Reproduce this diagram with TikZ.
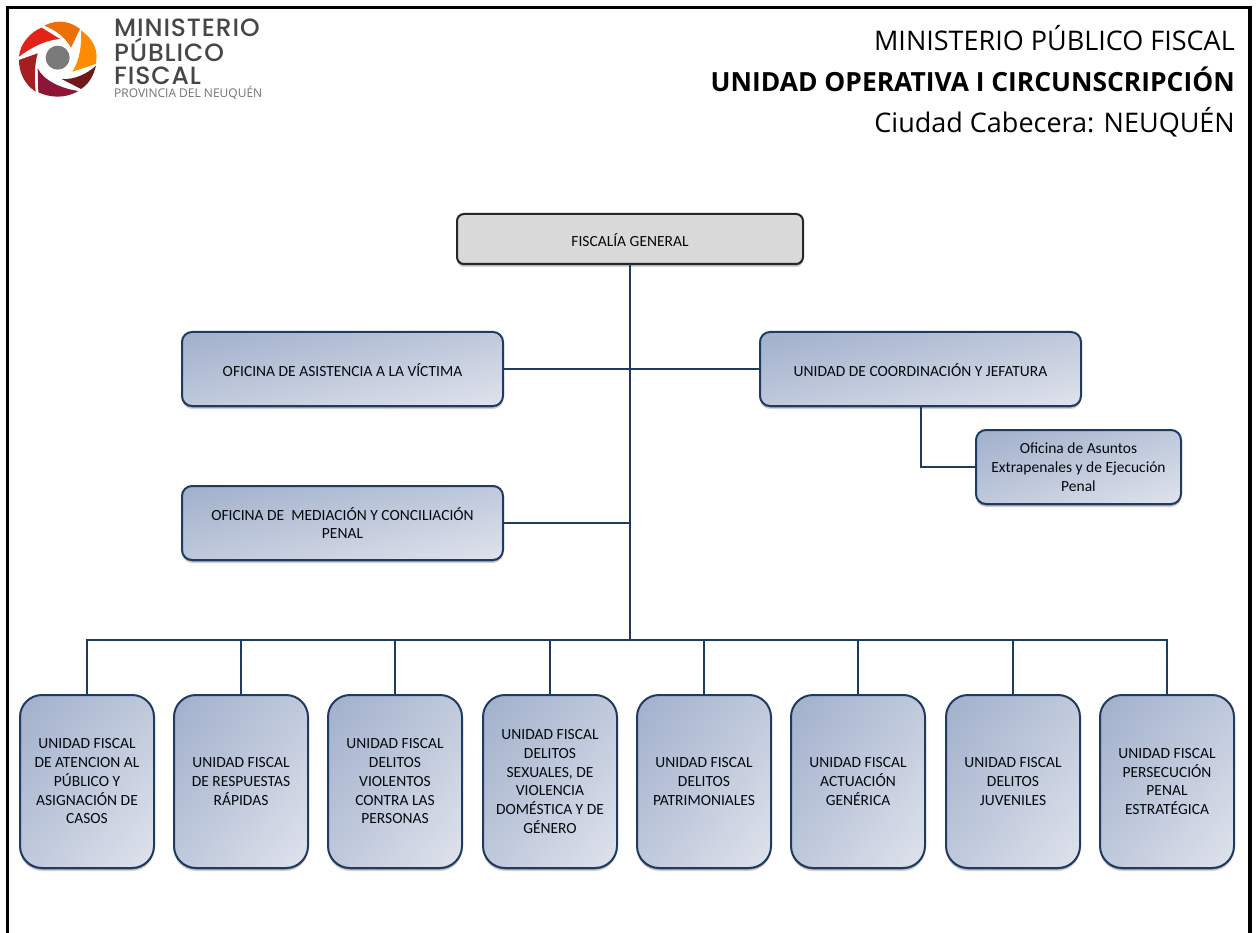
\documentclass[tikz,border=0pt]{standalone}
\usepackage{fontspec}
\setmainfont{Carlito}
\newfontfamily\titlefont{Open Sans}
\newfontfamily\logofont{Poppins}[UprightFont=* Medium,LetterSpace=3.5]
\usetikzlibrary{shadows}
\definecolor{navy}{HTML}{1F3A63}
\definecolor{boxa}{HTML}{A0AFCB}
\definecolor{boxb}{HTML}{DFE3EC}
\pgfdeclareverticalshading{diagfill}{100bp}{color(0bp)=(boxb); color(100bp)=(boxa)}
\tikzset{
  softshadow/.style={general shadow={shadow xshift=0pt,shadow yshift=-3pt,fill=black,opacity=.18},general shadow={shadow xshift=0pt,shadow yshift=-1.5pt,fill=black,opacity=.3}},
  diagshade/.style 2 args={fill=boxa!50!boxb,path picture={%
    \begin{pgfscope}%
      \pgftransformreset
      \pgftransformshift{\pgfpointanchor{path picture bounding box}{center}}%
      \pgftransformxscale{#1*0.01420}%
      \pgftransformyscale{#2*0.01420}%
      \pgftransformrotate{45}%
      \pgflowlevelsynccm
      \pgfuseshading{diagfill}%
    \end{pgfscope}}},
  firstline/.style={execute at begin node={\rule{0pt}{#1}}},
  plainbox/.style={draw=navy,line width=2pt,rounded corners=10pt,align=center,inner sep=0pt,outer sep=0pt,font=\fontsize{15.5}{18.75}\selectfont,text=black!85!navy,softshadow},
  lowbox/.style={plainbox,firstline=16pt,rounded corners=22pt,minimum width=134pt,minimum height=173pt,diagshade={134}{173}},
  widebox/.style={plainbox,minimum width=321pt,minimum height=74pt,diagshade={321}{74}},
  sidebox/.style={plainbox,firstline=16pt,minimum width=205pt,minimum height=74pt,diagshade={205}{74}},
  topbox/.style={plainbox,firstline=16pt,draw=black!85,fill=black!15,rounded corners=7pt,minimum width=346pt,minimum height=50pt},
  link/.style={draw=navy,line width=2pt},
  frameline/.style={draw=black,line width=3.5pt},
  titletext/.style={anchor=base east,inner sep=0pt,font=\titlefont\fontsize{27}{27}\selectfont},
  logotext/.style={anchor=base west,inner sep=0pt,text=black!72,font=\logofont\fontsize{25}{25}\selectfont}
}
\begin{document}
\begin{tikzpicture}[x=1pt,y=-1pt]
\useasboundingbox (0,0) rectangle (1256,933);
\fill[white] (0,0) rectangle (1256,933);
\draw[frameline] (7.5,933) -- (7.5,7.75) -- (1250,7.75) -- (1250,933);
% logo
\begin{scope}[shift={(15,15)},x=0.3333pt,y=-0.3333pt]
\fill[color={rgb,255:red,236;green,112;blue,10}] (88,32) .. controls (125,12) and (165,18) .. (195,42) -- (168,98) .. controls (150,65) and (120,45) .. (88,32) -- cycle;
\fill[color={rgb,255:red,255;green,140;blue,0}] (198,46) .. controls (235,70) and (252,110) .. (242,147) -- (172,170) .. controls (195,135) and (200,90) .. (198,46) -- cycle;
\fill[color={rgb,255:red,110;green,26;blue,26}] (243,152) .. controls (235,185) and (220,208) .. (198,222) -- (140,192) .. controls (180,195) and (218,175) .. (243,152) -- cycle;
\fill[color={rgb,255:red,143;green,21;blue,56}] (190,228) .. controls (150,252) and (105,248) .. (70,232) -- (68,160) .. controls (85,195) and (135,220) .. (190,228) -- cycle;
\fill[color={rgb,255:red,165;green,30;blue,34}] (62,230) .. controls (28,208) and (12,172) .. (12,135) -- (68,115) .. controls (58,150) and (58,195) .. (62,230) -- cycle;
\fill[color={rgb,255:red,227;green,35;blue,26}] (12,125) .. controls (15,85) and (48,50) .. (80,38) -- (135,72) .. controls (90,75) and (45,100) .. (12,125) -- cycle;
\fill[black!52] (128,128) circle (36pt*0.3333);
\end{scope}
\node[logotext] (l1) at (114,37) {MINISTERIO};
\node[logotext] (l2) at (114,61.5) {PÚBLICO};
\node[logotext] (l3) at (114,85) {FISCAL};
\node[logotext,text=black!55,font=\titlefont\fontsize{12}{12}\selectfont] (l4) at (114,98) {PROVINCIA DEL NEUQUÉN};
% title
\node[titletext] (t1) at (1235,51) {MINISTERIO PÚBLICO FISCAL};
\node[titletext,font=\titlefont\bfseries\fontsize{26.4}{26.4}\selectfont] (t2) at (1235,91.5) {UNIDAD OPERATIVA I CIRCUNSCRIPCIÓN};
\node[titletext] (t3) at (1235,132.5) {Ciudad Cabecera: NEUQUÉN};
% boxes
\node[topbox] (fg) at (630,239) {FISCALÍA GENERAL};
\node[widebox,firstline=15pt] (oav) at (342.5,369) {OFICINA DE ASISTENCIA A LA VÍCTIMA};
\node[widebox,firstline=15pt] (ucj) at (920.5,369) {UNIDAD DE COORDINACIÓN Y JEFATURA};
\node[sidebox] (oae) at (1078.5,467) {Oficina de Asuntos\\Extrapenales y de Ejecución\\Penal};
\node[widebox] (omc) at (342.5,523) {OFICINA DE\ \ MEDIACIÓN Y CONCILIACIÓN\\PENAL};
\node[lowbox] (u1) at (87,781.5) {UNIDAD FISCAL\\DE ATENCION AL\\PÚBLICO Y\\ASIGNACIÓN DE\\CASOS};
\node[lowbox] (u2) at (241,781.5) {UNIDAD FISCAL\\DE RESPUESTAS\\RÁPIDAS};
\node[lowbox] (u3) at (395,781.5) {UNIDAD FISCAL\\DELITOS\\VIOLENTOS\\CONTRA LAS\\PERSONAS};
\node[lowbox] (u4) at (550,781.5) {UNIDAD FISCAL\\DELITOS\\SEXUALES, DE\\VIOLENCIA\\DOMÉSTICA Y DE\\GÉNERO};
\node[lowbox] (u5) at (704,781.5) {UNIDAD FISCAL\\DELITOS\\PATRIMONIALES};
\node[lowbox] (u6) at (858,781.5) {UNIDAD FISCAL\\ACTUACIÓN\\GENÉRICA};
\node[lowbox] (u7) at (1013,781.5) {UNIDAD FISCAL\\DELITOS\\JUVENILES};
\node[lowbox] (u8) at (1167,781.5) {UNIDAD FISCAL\\PERSECUCIÓN\\PENAL\\ESTRATÉGICA};
% connectors
\coordinate (bus) at (630,640);
\draw[link] (fg.south) -- (bus);
\draw[link] (oav.east) -- (ucj.west);
\draw[link] (omc.east) -- (omc.east -| fg.south);
\draw[link] (ucj.south) |- (oae.west);
\foreach \u in {u1,u2,u3,u4,u5,u6,u7,u8} \draw[link] (bus) -| (\u.north);
\end{tikzpicture}
\end{document}
